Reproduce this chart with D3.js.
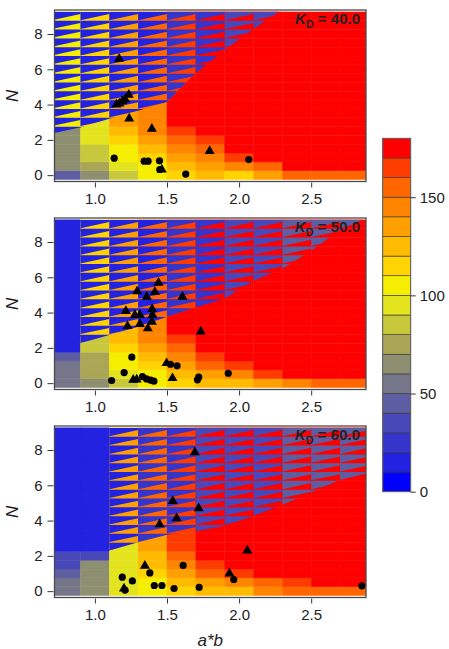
<!DOCTYPE html>
<html>
<head>
<meta charset="utf-8">
<script src="https://cdn.jsdelivr.net/npm/d3@7"></script>
<style>
body { margin: 0; background: #fff; }
text { font-family: "Liberation Sans", Arial, sans-serif; fill: #222; }
</style>
</head>
<body>
<div id="chart"></div>
<script>
// grid: column centres (a*b), row centres (N), column edges for the boundary line
const xs = [0.8, 1.0, 1.2, 1.4, 1.6, 1.8, 2.0, 2.2, 2.4, 2.6, 2.8];
const ns = [0, 0.5, 1, 1.5, 2, 2.5, 3, 3.5, 4, 4.5, 5, 5.5, 6, 6.5, 7, 7.5, 8, 8.5, 9];
const edges = [0.72, 0.9, 1.1, 1.3, 1.5, 1.7, 1.9, 2.1, 2.3, 2.5, 2.7, 2.88];
const xTicks = [1.0, 1.5, 2.0, 2.5];
const yTicks = [0, 2, 4, 6, 8];
const barTicks = [0, 50, 100, 150];
const kdLabels = ["40.0", "50.0", "60.0"];

// one colour per bin of 10, from 0 to 180
const binColors = ["#0000ff", "#2222e0", "#3535cc", "#4848b8", "#5d5da2", "#76768a",
                   "#8e8e70", "#aaa656", "#c8c83c", "#e4e41e", "#f6ee00", "#ffd400",
                   "#ffbb00", "#ffa000", "#ff8500", "#ff6600", "#ff3c00", "#ff0000"];

// lower field: per column, values from N = 0 upward (last value repeats)
const low40 = [[45, 65], [65, 75, 85, 85, 95], [85, 95, 105, 105, 115, 125, 135],
               [105, 105, 115, 125, 135, 145, 145], [115, 125, 135, 145, 155, 165, 175],
               [125, 135, 145, 155, 165, 175], [115, 145, 165, 175], [135, 155, 175],
               [155, 175], [155, 175], [155, 175]];
const low50 = [[55, 55, 55, 45, 15], [65, 75, 75, 75, 85, 85], [85, 95, 105, 105, 115, 125, 125],
               [105, 105, 115, 125, 135, 145, 145], [115, 125, 135, 145, 155, 165, 175],
               [125, 135, 155, 165, 175], [125, 145, 165, 175], [135, 165, 175],
               [145, 175], [155, 175], [155, 175]];
const low60 = [[55, 55, 45, 35, 35, 15], [65, 65, 65, 65, 35, 15], [95],
               [105, 105, 115, 125, 125, 135, 135], [115, 125, 135, 145, 155, 165, 165],
               [125, 135, 155, 165, 175], [125, 145, 165, 175], [145, 155, 175],
               [155, 165, 175], [155, 175], [155, 175]];

// upper field (above the boundary): wedge value A and value B per column
const upA40 = [105, 115, 135, 155, 165, 175, 175, 175, 175, 175, 175];
const upB40 = [15, 15, 15, 15, 25, 25, 35, 35, 35, 35, 35];
const upA50 = [15, 115, 135, 155, 165, 175, 175, 175, 175, 175, 175];
const upB50 = [15, 15, 15, 15, 25, 25, 35, 35, 45, 45, 45];
const upA60 = [15, 15, 135, 155, 165, 175, 175, 175, 175, 175, 175];
const upB60 = [15, 15, 15, 25, 25, 35, 35, 35, 45, 45, 45];

// boundary N at each column edge
const bnd40 = [2.26, 2.7, 3.2, 3.65, 4.15, 5.8, 7.1, 8.3, 9.4, 10, 10, 10];
const bnd50 = [2.0, 2.26, 2.73, 3.2, 3.76, 4.3, 4.8, 5.8, 6.5, 7.5, 8.7, 9.6];
const bnd60 = [2.3, 2.3, 2.3, 2.77, 3.2, 3.4, 3.7, 4.27, 4.9, 5.6, 6.3, 6.8];

// observed points [a*b, N]
const tri40 = [[1.168, 6.59], [1.15, 4.0], [1.17, 4.05], [1.19, 4.2], [1.21, 4.3], [1.235, 4.55],
               [1.238, 3.2], [1.395, 2.62], [1.464, 0.32], [1.796, 1.37]];
const dot40 = [[1.134, 0.96], [1.342, 0.79], [1.369, 0.79], [1.448, 0.81], [1.45, 0.32],
               [1.63, 0.06], [2.067, 0.88]];
const tri50 = [[1.293, 5.21], [1.441, 5.68], [1.416, 5.16], [1.36, 4.89], [1.607, 4.89],
               [1.215, 4.08], [1.397, 4.2], [1.277, 3.86], [1.312, 3.86], [1.4, 3.86],
               [1.226, 3.24], [1.312, 3.35], [1.395, 3.48], [1.367, 3.1], [1.734, 2.92],
               [1.497, 1.13], [1.538, 0.28], [1.266, 0.19], [1.29, 0.2]];
const dot50 = [[1.116, 0.15], [1.203, 0.6], [1.256, 1.47], [1.33, 0.37], [1.358, 0.24],
               [1.386, 0.17], [1.409, 0.11], [1.524, 1.07], [1.57, 0.98], [1.711, 0.19],
               [1.72, 0.34], [1.925, 0.56]];
const tri60 = [[1.693, 7.87], [1.54, 5.1], [1.72, 4.69], [1.567, 4.13], [1.449, 3.79],
               [1.347, 1.44], [1.202, 0.15], [1.933, 0.99], [2.057, 2.3]];
const dot60 = [[1.19, 0.79], [1.26, 0.58], [1.209, 0.06], [1.381, 1.03], [1.412, 0.32],
               [1.465, 0.32], [1.612, 1.46], [1.549, 0.15], [1.723, 0.21], [1.963, 0.66],
               [2.851, 0.3]];

const panels = [
  {kd: kdLabels[0], low: low40, upA: upA40, upB: upB40, bnd: bnd40, tri: tri40, dot: dot40},
  {kd: kdLabels[1], low: low50, upA: upA50, upB: upB50, bnd: bnd50, tri: tri50, dot: dot50},
  {kd: kdLabels[2], low: low60, upA: upA60, upB: upB60, bnd: bnd60, tri: tri60, dot: dot60}
];

var margin = {left: 54.5},
    width = 311.5,
    height = 171.5,
    tops = [10, 218, 426];

var svg = d3.select("#chart")
  .append("svg")
    .attr("width", 449)
    .attr("height", 649);

var x = d3.scaleLinear().domain([0.72, 2.88]).range([0, width]);
var y = d3.scaleLinear().domain([-0.36, 9.36]).range([height, 0]);
var color = v => binColors[Math.min(17, Math.floor(v / 10))];

panels.forEach(function(p, k) {
  var g = svg.append("g")
      .attr("transform", "translate(" + margin.left + "," + tops[k] + ")");

  g.append("clipPath").attr("id", "plot" + k)
    .append("rect").attr("width", width).attr("height", height);

  var area = g.append("g").attr("clip-path", "url(#plot" + k + ")");

  // lower field cells
  var cells = [];
  xs.forEach(function(xv, i) {
    ns.forEach(function(nv, j) {
      var col = p.low[i];
      cells.push({x: xv, n: nv, v: col[Math.min(j, col.length - 1)]});
    });
  });
  area.append("g").selectAll("rect")
    .data(cells)
    .enter()
    .append("rect")
      .attr("x", d => x(d.x - 0.1))
      .attr("width", d => x(d.x + 0.1) - x(d.x - 0.1))
      .attr("y", d => y(d.n + 0.25))
      .attr("height", d => y(d.n - 0.25) - y(d.n + 0.25))
      .attr("fill", d => color(d.v))
      .attr("stroke", d => color(d.v))
      .attr("stroke-width", 0.4);

  // upper field, clipped above the boundary line
  var pts = p.bnd.map((b, i) => [x(edges[i]), y(b)]);
  pts[0][0] -= 10;
  pts[pts.length - 1][0] += 10;
  pts.push([width + 10, -50], [-10, -50]);
  g.append("clipPath").attr("id", "upper" + k)
    .append("polygon").attr("points", pts.map(q => q.join(",")).join(" "));

  var up = area.append("g").attr("clip-path", "url(#upper" + k + ")");
  up.selectAll("rect")
    .data(xs)
    .enter()
    .append("rect")
      .attr("x", d => x(d - 0.1))
      .attr("width", d => x(d + 0.1) - x(d - 0.1))
      .attr("y", y(9.25))
      .attr("height", y(-0.25) - y(9.25))
      .attr("fill", (d, i) => color(p.upA[i]))
      .attr("stroke", (d, i) => color(p.upA[i]))
      .attr("stroke-width", 0.4);

  var wedges = [];
  xs.forEach(function(xv, i) {
    ns.forEach(function(nv) { wedges.push({x: xv, n: nv, v: p.upB[i]}); });
  });
  up.append("g").selectAll("path")
    .data(wedges)
    .enter()
    .append("path")
      .attr("d", d => "M" + x(d.x - 0.1) + "," + y(d.n - 0.22) +
                      "L" + x(d.x - 0.1) + "," + y(d.n + 0.25) +
                      "L" + x(d.x + 0.1) + "," + y(d.n + 0.25) +
                      "L" + x(d.x + 0.1) + "," + y(d.n + 0.13) + "Z")
      .attr("fill", d => color(d.v));

  // points
  area.append("g").selectAll("circle")
    .data(p.dot)
    .enter()
    .append("circle")
      .attr("cx", d => x(d[0]))
      .attr("cy", d => y(d[1]))
      .attr("r", 3.6)
      .attr("fill", "#000");
  area.append("g").selectAll("path")
    .data(p.tri)
    .enter()
    .append("path")
      .attr("d", d3.symbol(d3.symbolTriangle).size(44))
      .attr("transform", d => "translate(" + x(d[0]) + "," + y(d[1]) + ")")
      .attr("fill", "#000");

  // frame
  g.append("rect")
    .attr("width", width).attr("height", height)
    .attr("fill", "none").attr("stroke", "#4a4a4a").attr("stroke-width", 1.3);

  // axes
  var ax = g.append("g")
    .attr("transform", "translate(0," + (height + 1) + ")")
    .call(d3.axisBottom(x).tickValues(xTicks).tickFormat(d3.format(".1f")).tickSize(5).tickPadding(6));
  var ay = g.append("g")
    .attr("transform", "translate(-1,0)")
    .call(d3.axisLeft(y).tickValues(yTicks).tickSize(6).tickPadding(5));
  [ax, ay].forEach(function(a) {
    a.select(".domain").remove();
    a.selectAll("line").attr("stroke", "#333");
    a.selectAll("text").style("font-size", "15px").attr("fill", "#222");
  });

  g.append("text")
    .attr("transform", "translate(-37," + (height / 2) + ") rotate(-90)")
    .attr("text-anchor", "middle")
    .style("font-size", "17px")
    .style("font-style", "italic")
    .text("N");

  var kd = g.append("text")
    .attr("x", width - 6)
    .attr("y", 14)
    .attr("text-anchor", "end")
    .style("font-size", "15px")
    .style("font-weight", "bold");
  kd.append("tspan").style("font-style", "italic").text("K");
  kd.append("tspan").attr("dy", 4).style("font-size", "11px").text("D");
  kd.append("tspan").attr("dy", -4).text(" = " + p.kd);
});

svg.append("text")
  .attr("x", margin.left + width / 2)
  .attr("y", 646)
  .attr("text-anchor", "middle")
  .style("font-size", "17px")
  .style("font-style", "italic")
  .text("a*b");

// colour bar
var bar = svg.append("g").attr("transform", "translate(382.7,0)");
var yb = d3.scaleLinear().domain([0, 180]).range([491.7, 138.3]);
bar.selectAll("rect")
  .data(binColors)
  .enter()
  .append("rect")
    .attr("x", 0)
    .attr("width", 28)
    .attr("y", (d, i) => yb(i * 10 + 10))
    .attr("height", (d, i) => yb(i * 10) - yb(i * 10 + 10))
    .attr("fill", d => d)
    .attr("stroke", "#333")
    .attr("stroke-width", 0.6);
bar.append("rect")
  .attr("y", yb(180)).attr("width", 28).attr("height", yb(0) - yb(180))
  .attr("fill", "none").attr("stroke", "#666").attr("stroke-width", 1);
var ab = bar.append("g")
  .attr("transform", "translate(28,0)")
  .call(d3.axisRight(yb).tickValues(barTicks).tickSize(5).tickPadding(4));
ab.select(".domain").remove();
ab.selectAll("line").attr("stroke", "#333");
ab.selectAll("text").style("font-size", "15px").attr("fill", "#222");
</script>
</body>
</html>
